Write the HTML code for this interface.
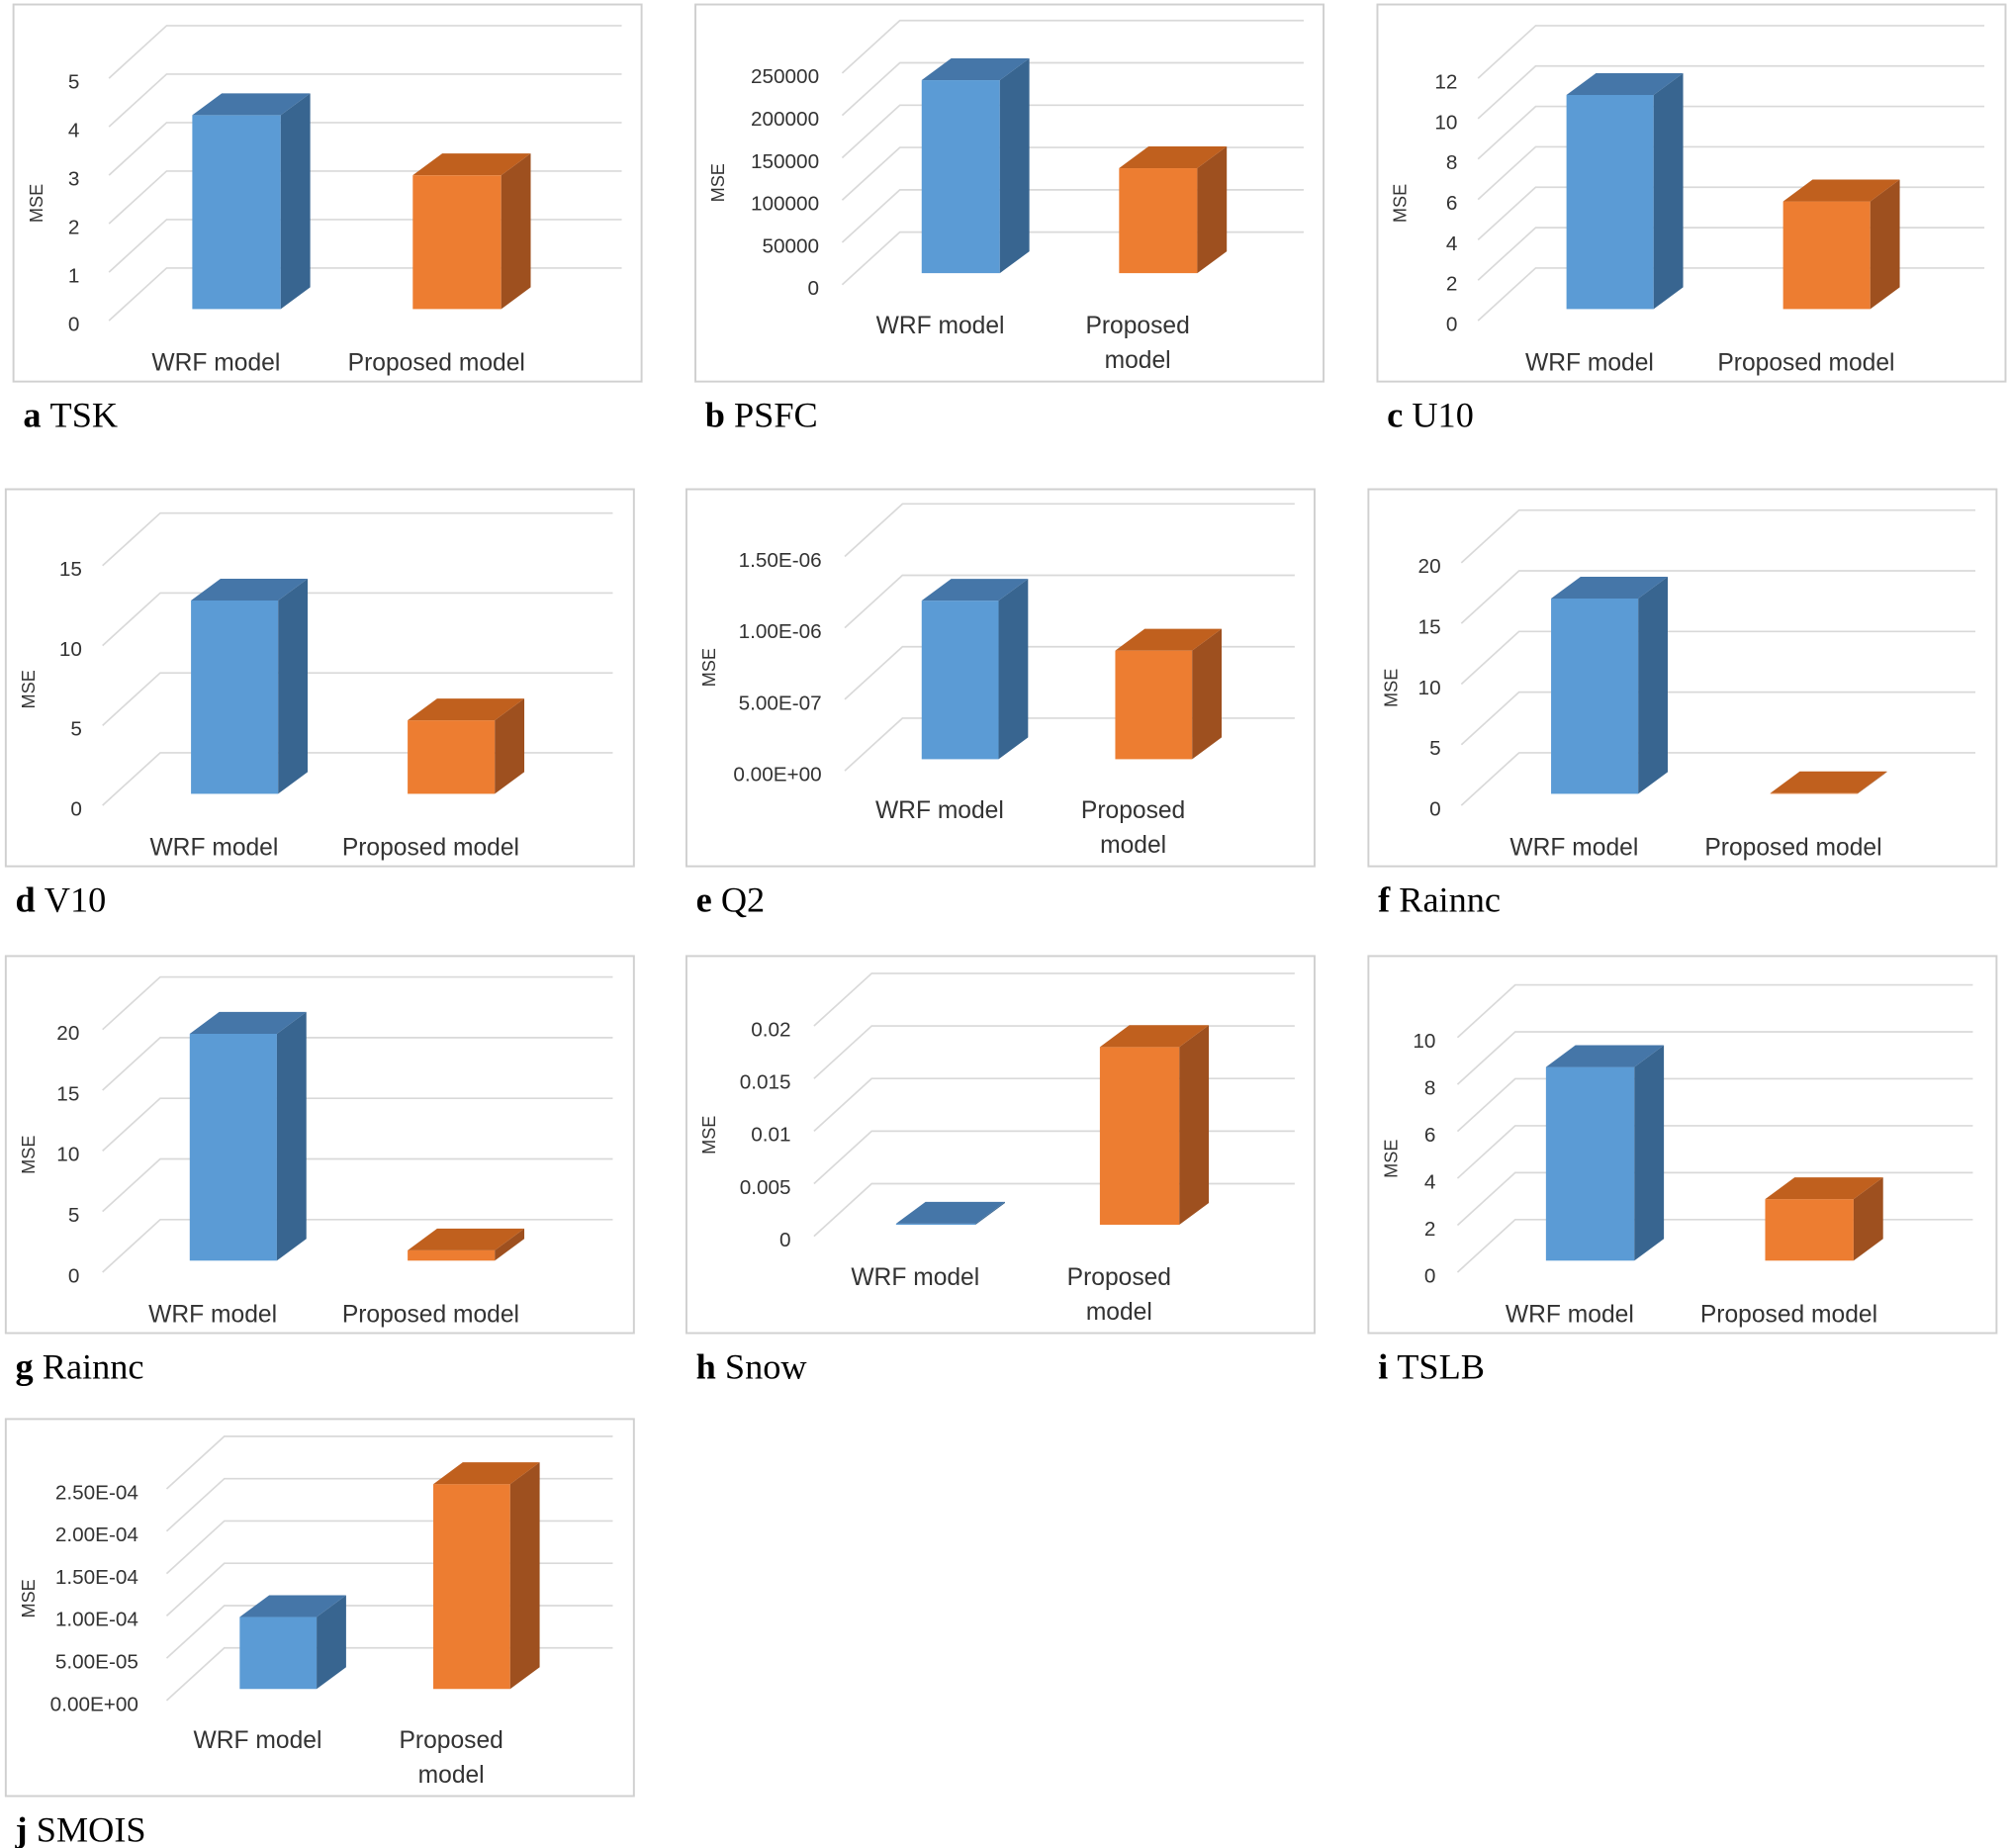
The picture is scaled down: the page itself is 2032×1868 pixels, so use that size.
<!DOCTYPE html>
<html><head><meta charset="utf-8"><style>
html,body{margin:0;padding:0;background:#fff;}
svg{display:block;}
text{font-family:"Liberation Sans",sans-serif;fill:#333;}
.cap{font-family:"Liberation Serif",serif;fill:#000;font-size:28px;}
</style></head><body>
<svg id="chart" width="2032" height="1868" viewBox="0 0 1568 1441" preserveAspectRatio="none" xmlns="http://www.w3.org/2000/svg"></svg>
<script>
const panelLetters = ["a","b","c","d","e","f","g","h","i","j"];
const variableNames = ["TSK","PSFC","U10","V10","Q2","Rainnc","Rainnc","Snow","TSLB","SMOIS"];
const categories = ["WRF model","Proposed model"];
const wrfValues = [4.0, 228000, 10.6, 12.1, 1.11e-6, 16.1, 18.7, 0.0001, 8.25, 8.5e-5];
const proposedValues = [2.76, 124000, 5.33, 4.6, 7.6e-7, 0.05, 0.85, 0.0169, 2.62, 2.42e-4];
const tickLabelsA = ["0","1","2","3","4","5"];
const tickLabelsB = ["0","50000","100000","150000","200000","250000"];
const tickLabelsC = ["0","2","4","6","8","10","12"];
const tickLabelsD = ["0","5","10","15"];
const tickLabelsE = ["0.00E+00","5.00E-07","1.00E-06","1.50E-06"];
const tickLabelsF = ["0","5","10","15","20"];
const tickLabelsG = ["0","5","10","15","20"];
const tickLabelsH = ["0","0.005","0.01","0.015","0.02"];
const tickLabelsI = ["0","2","4","6","8","10"];
const tickLabelsJ = ["0.00E+00","5.00E-05","1.00E-04","1.50E-04","2.00E-04","2.50E-04"];
const tickLabels = [tickLabelsA,tickLabelsB,tickLabelsC,tickLabelsD,tickLabelsE,tickLabelsF,tickLabelsG,tickLabelsH,tickLabelsI,tickLabelsJ];
const tickSteps = [1,50000,2,5,5e-7,5,5,0.005,2,5e-5];

const layout = [
 {bx:10,by:3,lx:62,y0:253,st:37.8,gx:85,gr:485,b1:150,b2:322,bw:69,two:false,cy:333},
 {bx:542,by:3,lx:639,y0:225,st:33,gx:657,gr:1017,b1:719,b2:873,bw:61,two:true,cy:333},
 {bx:1074,by:3,lx:1137,y0:253,st:31.5,gx:1153,gr:1548,b1:1222,b2:1391,bw:68,two:false,cy:333},
 {bx:4,by:381,lx:64,y0:631,st:62.3,gx:80,gr:478,b1:149,b2:318,bw:68,two:false,cy:711},
 {bx:535,by:381,lx:641,y0:604,st:55.7,gx:659,gr:1010,b1:719,b2:870,bw:60,two:true,cy:711},
 {bx:1067,by:381,lx:1124,y0:631,st:47.3,gx:1140,gr:1541,b1:1210,b2:1381,bw:68,two:false,cy:711},
 {bx:4,by:745,lx:62,y0:995,st:47.3,gx:80,gr:478,b1:148,b2:318,bw:68,two:false,cy:1075},
 {bx:535,by:745,lx:617,y0:967,st:41,gx:635,gr:1010,b1:699,b2:858,bw:62,two:true,cy:1075},
 {bx:1067,by:745,lx:1120,y0:995,st:36.6,gx:1137,gr:1539,b1:1206,b2:1377,bw:69,two:false,cy:1075},
 {bx:4,by:1106,lx:108,y0:1329,st:33,gx:130,gr:478,b1:187,b2:338,bw:60,two:true,cy:1436}
];
const svg = document.getElementById('chart');
const NS = "http://www.w3.org/2000/svg";
function mk(tag, attrs, parent){const e=document.createElementNS(NS,tag);for(const k in attrs)e.setAttribute(k,attrs[k]);parent.appendChild(e);return e;}
const colors = [{front:"#5B9BD5",top:"#4576A8",side:"#386590"},{front:"#ED7D31",top:"#C0601E",side:"#9E501F"}];
layout.forEach((L,p)=>{
  const g = mk('g',{},svg);
  
  
  const box = mk('rect',{x:L.bx+0.5,y:L.by+0.5,width:490,height:294,fill:"#fff",stroke:"#d0d0d0","stroke-width":1.5},g);
  
  
  const ticks = tickLabels[p];
  const yF = i => L.y0 - i*L.st;
  const DX=45, DY=-41;
  ticks.forEach((t,i)=>{
    const fy=yF(i)-3;
    const gl = mk('polyline',{points:`${L.gx},${fy} ${L.gx+DX},${fy+DY} ${L.gr},${fy+DY}`,fill:"none",stroke:"#d9d9d9","stroke-width":1.3},g);
    
    
    const tl = mk('text',{x:L.lx,y:yF(i)+5,"text-anchor":"end","font-size":16},g);
    tl.textContent=t;
    
    
  });
  const midY=(L.y0+yF(ticks.length-1))/2;
  const at = mk('text',{x:L.bx+23,y:midY,"text-anchor":"middle","font-size":14,transform:`rotate(-90 ${L.bx+23} ${midY})`},g);
  at.textContent="MSE";
  
  
  const base = L.y0-12;
  const yv = v => base - v/tickSteps[p]*L.st;
  const vals=[wrfValues[p],proposedValues[p]];
  const xs=[L.b1,L.b2];
  const dx=23, dy=-17;
  vals.forEach((v,k)=>{
    const x=xs[k], w=L.bw, top=yv(v), c=colors[k];
    const bg = mk('g',{},g);
    
    
    mk('rect',{x:x,y:top,width:w,height:Math.max(0,base-top),fill:c.front},bg);
    mk('polygon',{points:`${x+w},${top} ${x+w+dx},${top+dy} ${x+w+dx},${base+dy} ${x+w},${base}`,fill:c.side},bg);
    mk('polygon',{points:`${x},${top} ${x+dx},${top+dy} ${x+w+dx},${top+dy} ${x+w},${top}`,fill:c.top},bg);
    const cx=x+w/2-16;
    const ly = L.by+ (L.two? 257:286);
    if(L.two && k===1){
      const t1=mk('text',{x:cx,y:ly,"text-anchor":"middle","font-size":19},g);t1.textContent="Proposed";
      
      
      const t2=mk('text',{x:cx,y:ly+27,"text-anchor":"middle","font-size":19},g);t2.textContent="model";
      
      
    } else {
      const t=mk('text',{x:cx,y:ly,"text-anchor":"middle","font-size":19},g);t.textContent=categories[k];
      
      
    }
  });
  const cap = mk('text',{x:L.bx+8,y:L.cy,class:"cap"},svg);
  const b = mk('tspan',{"font-weight":"bold"},cap); b.textContent=panelLetters[p]+" ";
  const n = mk('tspan',{},cap); n.textContent=variableNames[p];
  
  
});
</script>
</body></html>
